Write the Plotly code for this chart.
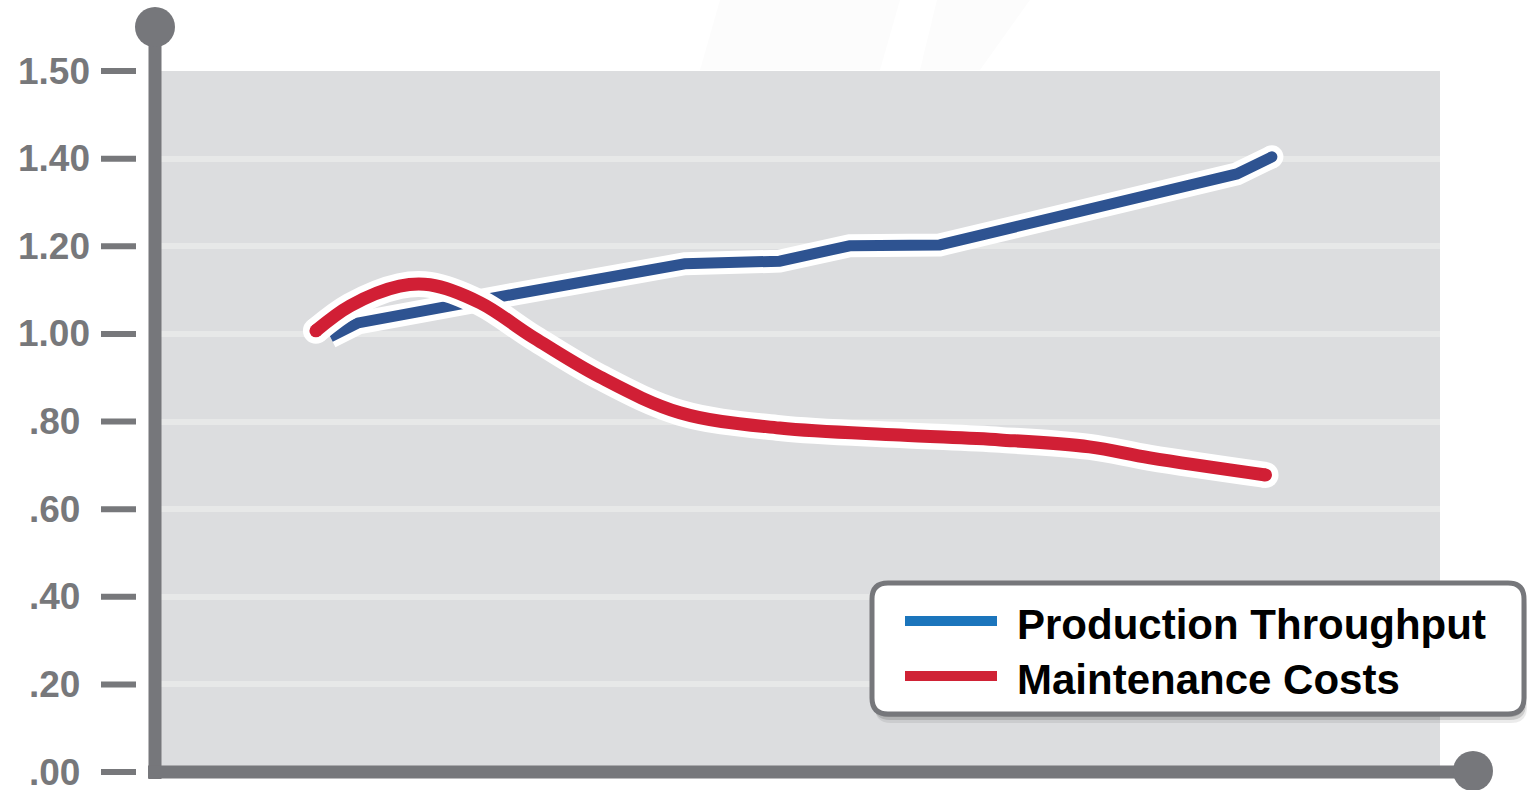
import plotly.graph_objects as go

# ---- data -------------------------------------------------------------
months_throughput = [0.18, 0.53, 2.50, 4.63, 5.82, 6.70, 7.83, 11.56, 12.0]
production_throughput = [0.993, 1.025, 1.091, 1.160, 1.166, 1.201, 1.203, 1.365, 1.404]

months_costs = [0.0, 0.43, 1.05, 1.43, 2.06, 2.72, 3.56, 4.57, 5.82, 7.33, 8.59, 9.71, 10.47, 11.92]
maintenance_costs = [1.007, 1.064, 1.109, 1.112, 1.071, 0.993, 0.902, 0.820, 0.785,
                     0.769, 0.758, 0.742, 0.717, 0.678]

series_names = ["Production Throughput", "Maintenance Costs"]

tick_positions = [0.0, 0.2, 0.4, 0.6, 0.8, 1.0, 1.2, 1.4, 1.6]
tick_labels = [".00", ".20", ".40", ".60", ".80", "1.00", "1.20", "1.40", "1.50"]

# ---- styling ----------------------------------------------------------
W, H = 1527, 790
PL, PR, PT, PB = 155, 1440, 71, 772          # plot box in pixels
Y_TOP = 1.6
AXIS_GREY = "#76777b"
LABEL_GREY = "#77787b"
BLUE_LINE = "#2e5391"
RED_LINE = "#d11f35"
BLUE_KEY = "#1b75bc"
RED_KEY = "#d02235"
FONT = "Liberation Sans"


def fx(px):
    return (px - PL) / (PR - PL)


def fy(py):
    return (PB - py) / (PB - PT)


fig = go.Figure()

# blue series (straight segments) with white halo
fig.add_trace(go.Scatter(x=months_throughput, y=production_throughput, mode="lines",
                         line=dict(color="white", width=23), hoverinfo="skip", showlegend=False))
fig.add_trace(go.Scatter(x=[months_throughput[-1]], y=[production_throughput[-1]], mode="markers",
                         marker=dict(color="white", size=23, line=dict(width=0)),
                         hoverinfo="skip", showlegend=False))
fig.add_trace(go.Scatter(x=months_throughput, y=production_throughput, mode="lines",
                         line=dict(color=BLUE_LINE, width=11), name=series_names[0], showlegend=False))
fig.add_trace(go.Scatter(x=[months_throughput[-1]], y=[production_throughput[-1]], mode="markers",
                         marker=dict(color=BLUE_LINE, size=11, line=dict(width=0)),
                         hoverinfo="skip", showlegend=False))

# red series (smoothed) with white halo and round ends
ends_x = [months_costs[0], months_costs[-1]]
ends_y = [maintenance_costs[0], maintenance_costs[-1]]
fig.add_trace(go.Scatter(x=months_costs, y=maintenance_costs, mode="lines",
                         line=dict(color="white", width=26, shape="spline", smoothing=1),
                         hoverinfo="skip", showlegend=False))
fig.add_trace(go.Scatter(x=ends_x, y=ends_y, mode="markers",
                         marker=dict(color="white", size=26, line=dict(width=0)),
                         hoverinfo="skip", showlegend=False))
fig.add_trace(go.Scatter(x=months_costs, y=maintenance_costs, mode="lines",
                         line=dict(color=RED_LINE, width=13, shape="spline", smoothing=1),
                         name=series_names[1], showlegend=False))
fig.add_trace(go.Scatter(x=ends_x, y=ends_y, mode="markers",
                         marker=dict(color=RED_LINE, size=13, line=dict(width=0)),
                         hoverinfo="skip", showlegend=False))

shapes = []
annotations = []

# faint decorative slants behind the chart
for pts in ([(720, 0), (900, 0), (880, 70), (700, 70)],
            [(937, 0), (1030, 0), (980, 70), (920, 70)]):
    path = "M " + " L ".join(f"{fx(a):.5f},{fy(b):.5f}" for a, b in pts) + " Z"
    shapes.append(dict(type="path", path=path, xref="paper", yref="paper",
                       fillcolor="#fcfcfc", line=dict(width=0), layer="below"))

# axis bars with round knobs
shapes.append(dict(type="line", xref="paper", yref="paper", x0=0, x1=0, y0=fy(27), y1=fy(779),
                   line=dict(color=AXIS_GREY, width=13)))
shapes.append(dict(type="line", xref="paper", yref="paper", x0=fx(148), x1=fx(1473), y0=0, y1=0,
                   line=dict(color=AXIS_GREY, width=13)))
for cx, cy in ((155, 27), (1473, 771)):
    shapes.append(dict(type="circle", xref="paper", yref="paper",
                       x0=fx(cx - 20), x1=fx(cx + 20), y0=fy(cy + 20), y1=fy(cy - 20),
                       fillcolor=AXIS_GREY, line=dict(width=0)))

# y tick dashes and labels (placed in paper units so the end ones are not clipped)
for val, lab in zip(tick_positions, tick_labels):
    yp = val / Y_TOP
    shapes.append(dict(type="line", xref="paper", yref="paper", x0=fx(101), x1=fx(136), y0=yp, y1=yp,
                       line=dict(color=LABEL_GREY, width=6)))
    annotations.append(dict(text=lab, xref="paper", yref="paper", x=fx(54), y=yp,
                            xanchor="center", yanchor="middle", showarrow=False,
                            font=dict(family=FONT, size=37, color=LABEL_GREY, weight="bold")))


def rounded_rect(x0, y0, x1, y1, r):
    a0, a1 = fx(x0), fx(x1)
    b0, b1 = fy(y1), fy(y0)   # bottom, top in paper units
    rx = r / (PR - PL)
    ry = r / (PB - PT)
    return (f"M {a0 + rx},{b1} L {a1 - rx},{b1} Q {a1},{b1} {a1},{b1 - ry} "
            f"L {a1},{b0 + ry} Q {a1},{b0} {a1 - rx},{b0} L {a0 + rx},{b0} "
            f"Q {a0},{b0} {a0},{b0 + ry} L {a0},{b1 - ry} Q {a0},{b1} {a0 + rx},{b1} Z")


# legend panel with soft shadow
for off, alpha in ((9, 0.10), (6, 0.18), (3, 0.25)):
    shapes.append(dict(type="path", xref="paper", yref="paper",
                       path=rounded_rect(872 + off / 3, 583 + off, 1524 + off / 3, 714 + off, 16),
                       fillcolor=f"rgba(60,60,60,{alpha})", line=dict(width=0)))
shapes.append(dict(type="path", xref="paper", yref="paper",
                   path=rounded_rect(872, 583, 1524, 714, 16),
                   fillcolor="white", line=dict(color=AXIS_GREY, width=5)))

for name, colour, ky in zip(series_names, (BLUE_KEY, RED_KEY), (621, 676)):
    shapes.append(dict(type="line", xref="paper", yref="paper", x0=fx(905), x1=fx(997),
                       y0=fy(ky), y1=fy(ky), line=dict(color=colour, width=10)))
    annotations.append(dict(text=name, xref="paper", yref="paper", x=fx(1015), y=fy(ky + 3),
                            xanchor="left", yanchor="middle", showarrow=False,
                            font=dict(family=FONT, size=42, color="black", weight="bold")))

fig.update_layout(
    width=W, height=H,
    margin=dict(l=PL, r=W - PR, t=PT, b=H - PB, pad=0),
    paper_bgcolor="white", plot_bgcolor="#dcdddf",
    xaxis=dict(range=[-2.02, 14.11], showgrid=False, zeroline=False, showline=False,
               showticklabels=False, ticks="", fixedrange=True),
    yaxis=dict(range=[0, Y_TOP], tickvals=tick_positions, showgrid=True, gridcolor="#e7e8e8",
               gridwidth=6, zeroline=False, showline=False, showticklabels=False, ticks="",
               fixedrange=True),
    shapes=shapes, annotations=annotations, showlegend=False,
)

fig.write_html("out.html")
